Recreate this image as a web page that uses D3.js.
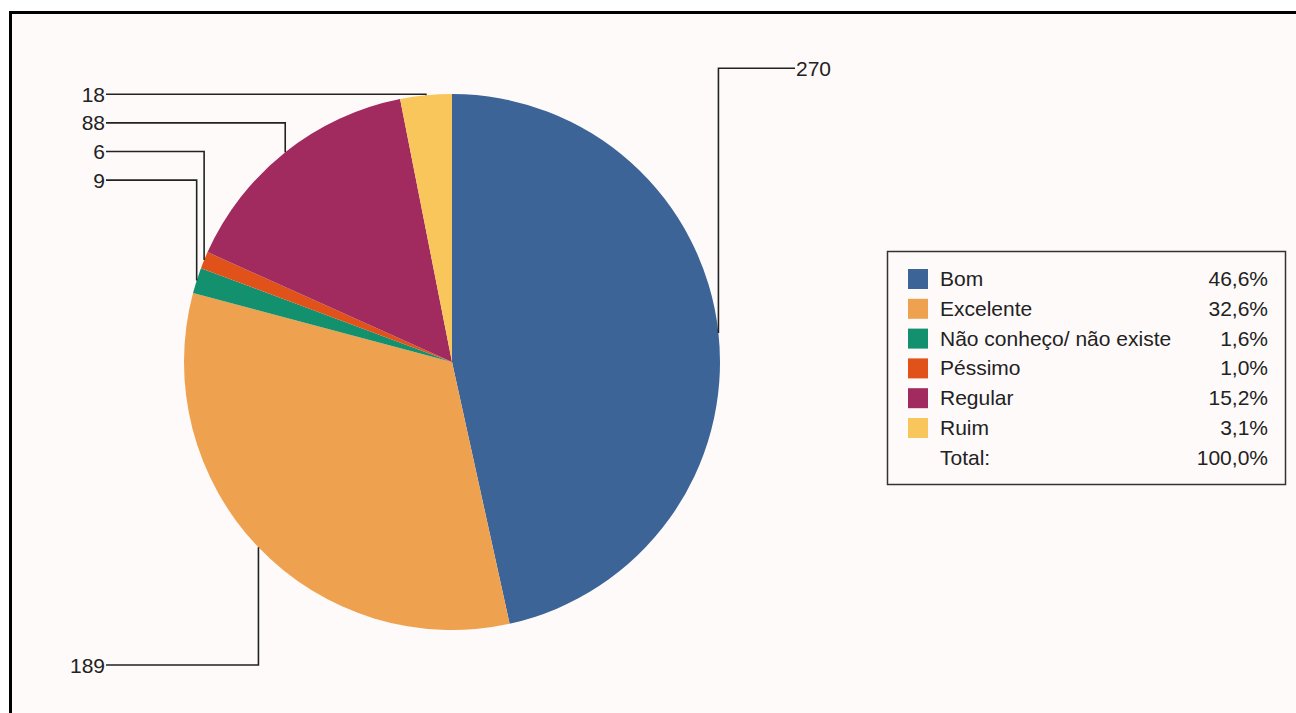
<!DOCTYPE html>
<html>
<head>
<meta charset="utf-8">
<script src="https://cdn.jsdelivr.net/npm/d3@7"></script>
<style>
  html, body { margin: 0; padding: 0; background: #ffffff; }
  svg { display: block; }
  text { font-family: "Liberation Sans", Arial, sans-serif; fill: #222; }
</style>
</head>
<body>
<svg id="chart" width="1296" height="713"></svg>
<script>
// ---- data ----
const categories = ["Bom", "Excelente", "Não conheço/ não existe", "Péssimo", "Regular", "Ruim"];
const counts = [270, 189, 9, 6, 88, 18];
const colors = ["#3c6497", "#eea24f", "#13906d", "#e0521a", "#a12a5e", "#f9c65b"];
const totalText = "Total:";

// ---- layout ----
const W = 1296, H = 713;
const cx = 452, cy = 362, R = 268;
const fontSize = 21;

const svg = d3.select("#chart");

// frame
svg.append("rect")
  .attr("x", 10.5).attr("y", 12.5)
  .attr("width", W + 20).attr("height", H + 20)
  .attr("fill", "#fffafa")
  .attr("stroke", "#000").attr("stroke-width", 3);

const total = d3.sum(counts);
const locale = d3.formatLocale({decimal: ",", thousands: ".", grouping: [3], currency: ["", ""]});
const pct = locale.format(".1%");

const data = categories.map((c, i) => ({cat: c, value: counts[i], color: colors[i]}));
const pie = d3.pie().sort(null).value(d => d.value);
const arcs = pie(data);
const arc = d3.arc().innerRadius(0).outerRadius(R);

const g = svg.append("g").attr("transform", `translate(${cx},${cy})`);
g.selectAll("path.slice").data(arcs).enter().append("path")
  .attr("class", "slice")
  .attr("d", arc)
  .attr("fill", d => d.data.color);

// ---- labels with leader lines ----
const rowGap = 28.6;
const topRow = cy - R + 0.3;
const labels = arcs.map(a => {
  const m = (a.startAngle + a.endAngle) / 2;
  return {a, m, ax: cx + R * Math.sin(m), ay: cy - R * Math.cos(m)};
});
const leftUpper = labels.filter(l => l.ax < cx && l.ay < cy).sort((p, q) => q.m - p.m);
leftUpper.forEach((l, i) => { l.ly = topRow + i * rowGap; l.side = "left"; });
labels.filter(l => l.ax < cx && l.ay >= cy).forEach(l => { l.ly = cy + R + 35; l.side = "left"; });
labels.filter(l => l.ax >= cx).forEach(l => { l.ly = cy - R - 25.7; l.side = "right"; });

const leftX = 106, rightX = 795;
labels.forEach(l => {
  const tx = l.side === "left" ? leftX : rightX;
  svg.append("path")
    .attr("d", d3.line()([[tx, l.ly], [l.ax, l.ly], [l.ax, l.ay]]))
    .attr("fill", "none").attr("stroke", "#222").attr("stroke-width", 1.6);
  svg.append("text")
    .attr("x", l.side === "left" ? tx - 1 : tx + 1)
    .attr("y", l.ly)
    .attr("dy", "0.36em")
    .attr("text-anchor", l.side === "left" ? "end" : "start")
    .attr("font-size", fontSize)
    .text(l.a.data.value);
});

// ---- legend ----
const lg = svg.append("g");
lg.append("rect")
  .attr("x", 887.5).attr("y", 251.5).attr("width", 398).attr("height", 233)
  .attr("fill", "#fffafa").attr("stroke", "#333").attr("stroke-width", 1.5);

const rowY = d3.scaleLinear().domain([0, 1]).range([286, 286 + 29.8]);
const items = data.concat([{cat: totalText, value: total, color: null}]);
items.forEach((d, i) => {
  const y = rowY(i);
  if (d.color) {
    lg.append("rect").attr("x", 908).attr("y", y - 17).attr("width", 20).attr("height", 20)
      .attr("fill", d.color);
  }
  lg.append("text").attr("x", 940).attr("y", y).attr("font-size", fontSize).text(d.cat);
  lg.append("text").attr("x", 1268).attr("y", y).attr("text-anchor", "end")
    .attr("font-size", fontSize).text(pct(d.value / total));
});
</script>
</body>
</html>
